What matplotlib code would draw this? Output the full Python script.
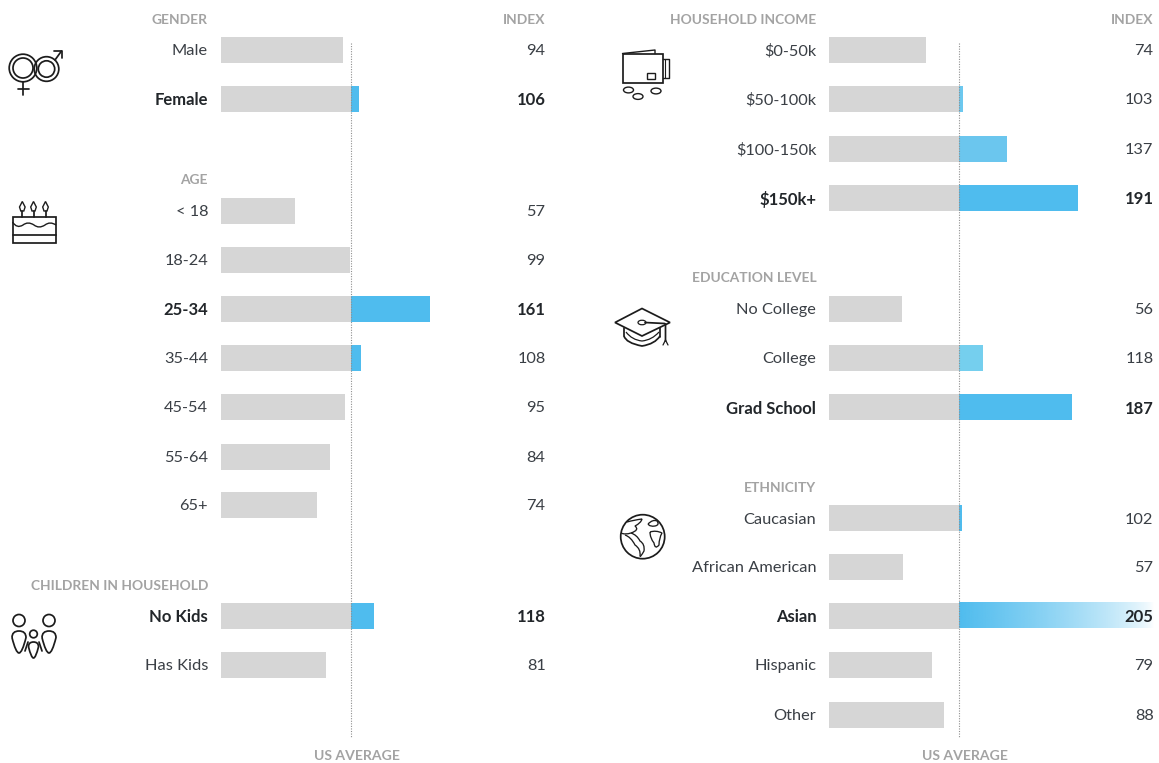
import numpy as np
import matplotlib
matplotlib.use("Agg")
import matplotlib.pyplot as plt
from matplotlib.patches import Circle, Ellipse, Rectangle, Polygon, PathPatch
from matplotlib.path import Path

plt.rcParams['font.family'] = ['Lato', 'DejaVu Sans']

# ---------- data ----------
left_labels = ["Male", "Female", "< 18", "18-24", "25-34", "35-44", "45-54", "55-64", "65+", "No Kids", "Has Kids"]
left_values = [94, 106, 57, 99, 161, 108, 95, 84, 74, 118, 81]
left_bold = ["Female", "25-34", "No Kids"]

right_labels = ["$0-50k", "$50-100k", "$100-150k", "$150k+", "No College", "College", "Grad School",
                "Caucasian", "African American", "Asian", "Hispanic", "Other"]
right_values = [74, 103, 137, 191, 56, 118, 187, 102, 57, 205, 79, 88]
right_bold = ["$150k+", "Grad School", "Asian"]
right_colors = ["#4fbcee", "#6cc8ef", "#6bc6ee", "#4fbcee", "#4fbcee", "#75cfee", "#4fbcee",
                "#4fbcee", "#4fbcee", "#4fbcee", "#4fbcee", "#4fbcee"]

# ---------- layout (pixels of the 1159x763 canvas) ----------
W, H = 1159, 763
left_rows = [49.5, 98.5, 210.5, 259.5, 308.5, 357.5, 407, 456.5, 505, 615.5, 664.5]
right_rows = [49.5, 98.5, 148.5, 197.5, 308.5, 357.5, 407, 518, 567, 615.5, 664.5, 714.5]
left_heads = [("GENDER", 18.5), ("AGE", 179.5), ("CHILDREN IN HOUSEHOLD", 584.5)]
right_heads = [("HOUSEHOLD INCOME", 18.5), ("EDUCATION LEVEL", 277.5), ("ETHNICITY", 486.5)]
GREY, BLUE, HEAD, TXT = "#d6d6d6", "#4fbcee", "#a3a3a3", "#3a3f45"
BAR_H = 26
FS, FS_BOLD, FS_HEAD = 11.8, 12.0, 9.9

fig = plt.figure(figsize=(W / 100, H / 100), dpi=100, facecolor="white")


def panel(x0, x1, scale, labels, values, bold, rows, heads, colors, idx_x, fade_to=None):
    ax = fig.add_axes([x0 / W, 0, (x1 - x0) / W, 1])
    ax.set_xlim(0, (x1 - x0) / scale)
    ax.set_ylim(H, 0)
    for s in ax.spines.values():
        s.set_visible(False)
    ax.set_xticks([])
    ax.set_yticks(rows, labels)
    ax.tick_params(axis="y", length=0, pad=13 * 72 / 100, labelsize=FS, labelcolor=TXT)
    for t in ax.get_yticklabels():
        if t.get_text() in bold:
            t.set_fontweight("bold")
            t.set_fontsize(FS_BOLD)
            t.set_color("#22262a")
    ax.patch.set_alpha(0)
    for lab, v, y, c in zip(labels, values, rows, colors):
        ax.barh(y, min(v, 100), height=BAR_H, left=0, color=GREY, linewidth=0)
        if v > 100:
            if fade_to and lab == fade_to[0]:
                rgba = np.zeros((1, 256, 4))
                rgba[..., :3] = matplotlib.colors.to_rgb(BLUE)
                rgba[..., 3] = np.linspace(1, 0, 256) ** 0.7
                ax.imshow(rgba, extent=(100, fade_to[1], y + BAR_H / 2, y - BAR_H / 2),
                          aspect="auto", zorder=2, interpolation="bilinear")
            else:
                ax.barh(y, v - 100, height=BAR_H, left=100, color=c, linewidth=0, zorder=2)
        ax.text(idx_x, y, str(v), ha="right", va="center_baseline",
                fontsize=FS_BOLD if lab in bold else FS,
                color="#22262a" if lab in bold else TXT,
                fontweight="bold" if lab in bold else "normal", zorder=3)
    ax.set_xlim(0, (x1 - x0) / scale)
    ax.set_ylim(H, 0)
    ax.plot([100, 100], [43, 737], color="#8f8f8f", lw=0.8, ls=(0, (1, 1.3)), zorder=4)
    for txt, y in heads:
        ax.text(-13 / scale, y, txt, ha="right", va="center_baseline", fontsize=FS_HEAD,
                fontweight="bold", color=HEAD)
    ax.text(idx_x, 18.5, "INDEX", ha="right", va="center_baseline", fontsize=FS_HEAD,
            fontweight="bold", color=HEAD)
    ax.text(100 + 6 / scale, 755.5, "US AVERAGE", ha="center", va="center_baseline", fontsize=FS_HEAD + 0.2,
            fontweight="bold", color=HEAD)
    return ax


panel(221, 575, 1.3, left_labels, left_values, left_bold, left_rows, left_heads,
      [BLUE] * len(left_values), (545.5 - 221) / 1.3)
panel(829.3, 1159, 1.3, right_labels, right_values, right_bold, right_rows, right_heads,
      right_colors, (1153.5 - 829.3) / 1.3, fade_to=("Asian", 250))

# ---------- line icons, drawn in canvas pixels ----------
ic = fig.add_axes([0, 0, 1, 1], zorder=5)
ic.set_xlim(0, W)
ic.set_ylim(H, 0)
ic.axis("off")
ic.patch.set_alpha(0)
K = "#1c1c1c"
LW = 1.25


def ln(xs, ys, lw=LW):
    ic.plot(xs, ys, color=K, lw=lw, solid_capstyle="round", solid_joinstyle="round")


def ring(x, y, r, lw=LW):
    ic.add_patch(Circle((x, y), r, fill=False, ec=K, lw=lw))


def curve(pts, lw=LW):
    pts = list(pts)
    if len(pts) % 2 == 0:
        pts.append(pts[-1])
    codes = [Path.MOVETO] + [Path.CURVE3] * (len(pts) - 1)
    ic.add_patch(PathPatch(Path(pts, codes), fill=False, ec=K, lw=lw))


def drop(cx, top, bottom, hw, lw=LW):
    """Tear-drop body: rounded shoulders tapering to a narrow foot."""
    m = top + (bottom - top) * 0.3
    pts = [(cx - hw, m), (cx - hw, top), (cx, top), (cx + hw, top), (cx + hw, m),
           (cx + hw * 0.45, bottom), (cx, bottom), (cx - hw * 0.45, bottom), (cx - hw, m)]
    curve(pts, lw=lw)


# gender
ring(46.5, 69, 12.3); ring(46.5, 69, 8.2)
ic.add_patch(Circle((23, 68), 13.8, fc="none", ec=K, lw=LW, zorder=3))
ic.add_patch(Circle((23, 68), 10, fc="none", ec=K, lw=LW, zorder=3))
ln([55, 61.5], [60, 51]); ln([53.5, 61.5, 61.5], [50.5, 50.5, 58])
ln([23, 23], [82, 95]); ln([17.5, 29], [89, 89])

# cake
ic.add_patch(Rectangle((12.5, 217), 43.5, 26, fill=False, ec=K, lw=LW))
ln([12.5, 56], [235, 235])
for x in (22.3, 33.5, 45.5):
    ln([x, x], [211, 217])
    ic.add_patch(Polygon([(x, 201.5), (x + 2.8, 207), (x + 1.5, 211), (x - 1.5, 211), (x - 2.8, 207)],
                         closed=True, fill=False, ec=K, lw=1.0))
curve([(12.5, 222), (17, 229), (23, 225), (28, 221), (34, 225), (39, 229), (45, 225), (50, 221), (56, 225)], lw=1.0)

# family
ring(19, 620.5, 6); ring(49, 620.5, 6); ring(33.5, 634, 3.8)
drop(19, 631, 653, 7); drop(49, 631, 653, 7); drop(33.5, 642, 658, 5)
ln([28, 25], [642, 651]); ln([39, 42], [642, 651])

# wallet
ic.add_patch(Rectangle((622.5, 53.5), 40, 29.5, fill=False, ec=K, lw=LW))
ln([622.5, 655, 655], [53.5, 50, 53.5], lw=1.0)
ln([662.5, 668.5, 668.5, 662.5], [59, 59, 78, 78], lw=1.0); ln([664.5, 664.5], [59, 78], lw=0.8)
ic.add_patch(Rectangle((647, 73), 8, 5.5, fill=False, ec=K, lw=1.0))
for x, y in ((628.5, 90), (638, 96.5), (656, 91)):
    ic.add_patch(Ellipse((x, y), 10, 5.8, fill=False, ec=K, lw=1.0))

# graduation cap
ic.add_patch(Polygon([(615, 322.5), (642, 308.5), (670, 322.5), (642, 336)], closed=True, fill=False, ec=K, lw=LW))
ic.add_patch(Ellipse((642, 322.5), 8, 4.5, fill=False, ec=K, lw=0.9))
ln([645, 664.5, 665.5, 665.5], [322.5, 323.5, 324, 341])
ln([665.5, 663], [340, 345], lw=0.9); ln([665.5, 668], [340, 345], lw=0.9)
ln([624, 624], [328, 336])
curve([(624, 336), (626, 343), (642, 346), (655, 344), (660, 336)])
curve([(626, 332), (632, 340), (642, 341), (652, 340), (659, 332)], lw=0.9)
ln([660, 660], [328, 337])

# globe
ring(642.7, 536.7, 22)
curve([(627, 522), (634, 520), (642, 519), (641, 523), (635, 526), (640, 530), (631, 533),
       (625, 535), (621, 533)], lw=0.95)
curve([(625, 535), (631, 537), (635, 545), (641, 549), (640, 556)], lw=0.95)
curve([(631, 533), (637, 535), (640, 541), (645, 544), (644, 551), (640, 558), (640, 556)], lw=0.95)
curve([(650, 532), (656, 530), (662, 533), (659, 538), (659, 545), (655, 550), (654, 543), (650, 538), (650, 532)], lw=0.95)
curve([(648, 524), (653, 519), (657, 521), (660, 525), (655, 526), (650, 527), (648, 524)], lw=0.95)

fig.savefig("out.png", dpi=100, facecolor="white")
